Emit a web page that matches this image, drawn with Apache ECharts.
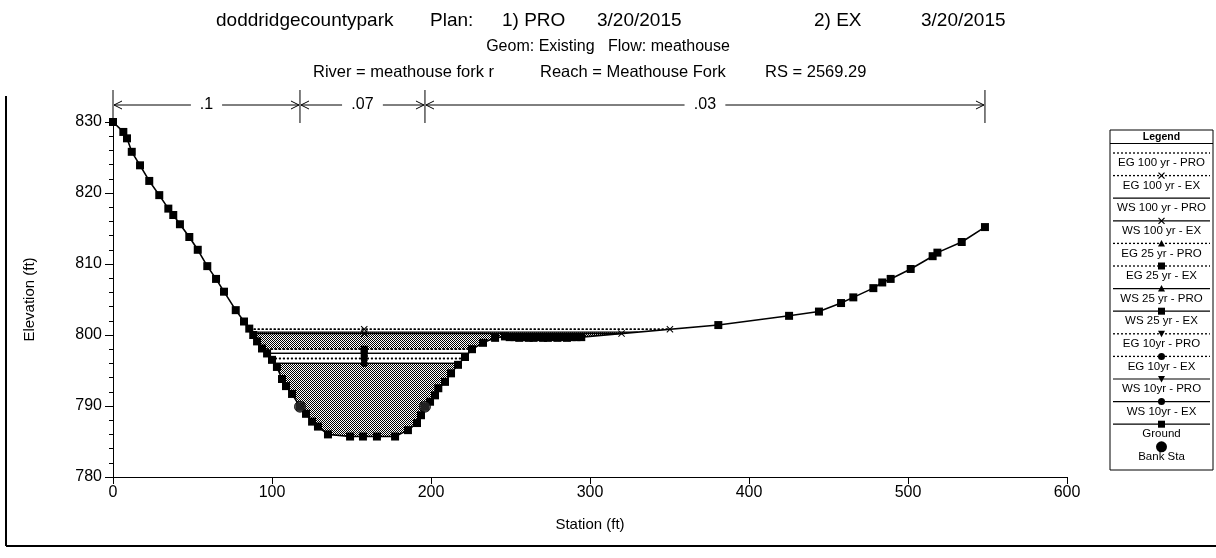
<!DOCTYPE html>
<html>
<head>
<meta charset="utf-8">
<script src="https://cdn.jsdelivr.net/npm/echarts@6/dist/echarts.min.js"></script>
<style>
  html, body { margin: 0; padding: 0; background: #fff; }
  #chart { width: 1216px; height: 558px; }
</style>
</head>
<body>
<div id="chart"></div>
<script>
// ---- Cross-section data -------------------------------------------------
// Ground survey points (station ft, elevation ft)
const groundStation = [
  0, 6.5, 8.8, 11.8, 17.0, 22.8, 29.1, 34.8, 37.9, 42.1, 48.0, 53.3, 59.3, 64.8, 69.8,
  77.2, 82.4, 85.7, 88.2, 90.6, 93.7, 96.9, 100.0, 103.1, 106.3, 108.8, 112.6, 117.6,
  121.4, 125.2, 128.9, 135.2, 149.1, 157.2, 166.0, 177.4, 185.5, 191.2, 193.7, 196.2,
  199.4, 202.5, 204.6, 208.8, 212.6, 217.0, 221.4, 225.8, 232.7, 240.3, 246.5,
  249.5, 252.5, 255.5, 258.5, 261.5, 264.5, 267.5, 270.5, 273.5, 276.5, 279.5, 282.5,
  285.5, 288.5, 291.5, 294.5,
  380.7, 425.2, 444.0, 457.9, 465.6, 478.2, 483.8, 489.1, 501.7, 515.5, 518.5, 533.8, 548.4
];
const groundElev = [
  830.0, 828.6, 827.7, 825.8, 823.9, 821.7, 819.7, 817.8, 816.9, 815.6, 813.8, 812.0, 809.7, 807.9, 806.1,
  803.5, 801.9, 800.9, 800.0, 799.1, 798.1, 797.4, 796.5, 795.5, 793.8, 792.8, 791.7, 789.9,
  788.9, 787.8, 787.1, 786.0, 785.7, 785.7, 785.7, 785.7, 786.6, 787.6, 788.7, 789.9,
  790.6, 791.5, 792.5, 793.4, 794.6, 795.8, 796.9, 798.0, 798.9, 799.6, 799.8,
  799.7, 799.7, 799.6, 799.7, 799.6, 799.6, 799.7, 799.6, 799.6, 799.7, 799.6, 799.7,
  799.6, 799.7, 799.7, 799.7,
  801.4, 802.7, 803.3, 804.5, 805.3, 806.6, 807.4, 807.9, 809.3, 811.1, 811.6, 813.1, 815.2
];

// Bank stations
const bankStation = [117.6, 196.2];
const bankElev = [789.9, 789.9];

// Manning's n regions
const nBreaks = [0, 117.6, 196.2, 548.4];
const nValues = ['.1', '.07', '.03'];

// Computed profiles
const profileNames = [
  'EG 100 yr - PRO', 'EG 100 yr - EX', 'WS 100 yr - PRO', 'WS 100 yr - EX',
  'EG 25 yr - PRO', 'EG 25 yr - EX', 'WS 25 yr - PRO', 'WS 25 yr - EX',
  'EG 10yr - PRO', 'EG 10yr - EX', 'WS 10yr - PRO', 'WS 10yr - EX'
];
const profileElev = [800.8, 800.8, 800.4, 800.2, 798.0, 798.0, 797.4, 797.4, 796.7, 796.7, 796.0, 796.0];
const symbolStation = 158;

// Axis ticks
const xTicks = [0, 100, 200, 300, 400, 500, 600];
const yTicks = [780, 790, 800, 810, 820, 830];

// Heading pieces
const titleLine1 = ['doddridgecountypark', 'Plan:', '1) PRO', '3/20/2015', '2) EX', '3/20/2015'];
const titleLine2 = 'Geom: Existing   Flow: meathouse';
const titleLine3 = ['River = meathouse fork r', 'Reach = Meathouse Fork', 'RS = 2569.29'];

// ---- Styling --------------------------------------------------------------
const FONT = '"Liberation Sans", Arial, sans-serif';
const SYM = {
  x: 'path://M0,1L1,0L5,4L9,0L10,1L6,5L10,9L9,10L5,6L1,10L0,9L4,5Z',
  triangle: 'triangle',
  rect: 'rect',
  down: 'path://M0,0L10,0L5,9Z',
  circle: 'circle',
  none: 'none'
};
const profileSymbol = ['none', 'x', 'none', 'x', 'triangle', 'rect', 'triangle', 'rect', 'down', 'circle', 'down', 'circle'];
const isEG = profileNames.map(n => n.startsWith('EG'));

// dithered water fill
const pat = document.createElement('canvas');
pat.width = 2; pat.height = 2;
const pc = pat.getContext('2d');
pc.fillStyle = '#ffffff'; pc.fillRect(0, 0, 2, 2);
pc.fillStyle = '#000000'; pc.fillRect(0, 0, 1, 1); pc.fillRect(1, 1, 1, 1);
const hatch = { image: pat, repeat: 'repeat' };

// where a water level meets the ground on each side of the thalweg
function crossings(level) {
  let lo = 0;
  for (let i = 1; i < groundElev.length; i++) if (groundElev[i] < groundElev[lo]) lo = i;
  let left = groundStation[0], right = groundStation[groundStation.length - 1];
  for (let i = lo; i > 0; i--) {
    if (groundElev[i - 1] >= level) {
      const t = (level - groundElev[i]) / (groundElev[i - 1] - groundElev[i]);
      left = groundStation[i] + t * (groundStation[i - 1] - groundStation[i]);
      break;
    }
  }
  for (let i = lo; i < groundElev.length - 1; i++) {
    if (groundElev[i + 1] >= level) {
      const t = (level - groundElev[i]) / (groundElev[i + 1] - groundElev[i]);
      right = groundStation[i] + t * (groundStation[i + 1] - groundStation[i]);
      break;
    }
  }
  return [left, right];
}

const ground = groundStation.map((s, i) => [s, groundElev[i]]);
const series = [];

// water fills
function fillSeries(level, color, z) {
  const [l, r] = crossings(level);
  return {
    type: 'line', data: [[l, level], [r, level]], symbol: 'none', silent: true,
    lineStyle: { width: 0, opacity: 0 },
    areaStyle: { color: color, opacity: 1, origin: 'start' }, z: z
  };
}
series.push(fillSeries(profileElev[2], hatch, 1));
series.push(fillSeries(profileElev[4], '#ffffff', 1));
series.push(fillSeries(profileElev[10], hatch, 1));

// mask below the terrain
series.push({
  type: 'line', data: ground, symbol: 'none', silent: true,
  lineStyle: { width: 0, opacity: 0 },
  areaStyle: { color: '#ffffff', opacity: 1, origin: 'start' }, z: 2
});

// profile lines
profileNames.forEach((name, i) => {
  const lvl = profileElev[i];
  const [l, r] = crossings(lvl);
  const sym = SYM[profileSymbol[i]];
  const pts = [
    { value: [l, lvl], symbol: 'none' },
    { value: [symbolStation, lvl], symbol: sym, symbolSize: 7 },
    profileSymbol[i] === 'x' ? { value: [r, lvl], symbol: sym, symbolSize: 7 } : { value: [r, lvl], symbol: 'none' }
  ];
  series.push({
    name: name, type: 'line', data: pts, z: 3,
    lineStyle: { color: '#000', width: isEG[i] ? 1.6 : 1.3, type: isEG[i] ? [2, 2] : 'solid' },
    itemStyle: { color: '#000' }
  });
});

// ground line
series.push({
  name: 'Ground', type: 'line', data: ground, z: 4,
  symbol: 'rect', symbolSize: 8,
  lineStyle: { color: '#000', width: 1.6 }, itemStyle: { color: '#000' }
});

// bank stations
series.push({
  name: 'Bank Sta', type: 'scatter', z: 5,
  data: bankStation.map((s, i) => [s, bankElev[i]]),
  symbol: 'circle', symbolSize: 11,
  itemStyle: { color: '#2a2a2a', borderColor: '#000', borderWidth: 1 }
});

const chart = echarts.init(document.getElementById('chart'), null, { renderer: 'canvas' });

chart.setOption({
  animation: false,
  backgroundColor: '#fff',
  textStyle: { fontFamily: FONT },
  grid: { left: 113, top: 122, width: 954, height: 355, containLabel: false },
  xAxis: {
    type: 'value', min: xTicks[0], max: xTicks[xTicks.length - 1], interval: 100, z: 10,
    name: 'Station (ft)', nameLocation: 'middle', nameGap: 40,
    nameTextStyle: { fontSize: 15, color: '#000', fontFamily: FONT },
    axisLine: { onZero: false, lineStyle: { color: '#000', width: 1 } },
    axisTick: { length: 7, lineStyle: { color: '#000' } },
    axisLabel: { fontSize: 16, color: '#000', margin: 8, fontFamily: FONT },
    splitLine: { show: false }
  },
  yAxis: {
    type: 'value', min: yTicks[0], max: yTicks[yTicks.length - 1], interval: 10, z: 10,
    name: 'Elevation (ft)', nameLocation: 'middle', nameGap: 76, nameRotate: 90,
    nameTextStyle: { fontSize: 15, color: '#000', fontFamily: FONT },
    axisLine: { onZero: false, lineStyle: { color: '#000', width: 1 } },
    axisTick: { length: 8, lineStyle: { color: '#000' } },
    minorTick: { show: true, splitNumber: 5, length: 4, lineStyle: { color: '#000' } },
    axisLabel: { fontSize: 16, color: '#000', margin: 11, fontFamily: FONT },
    splitLine: { show: false }
  },
  series: series
});

// ---- Annotations (headings, n-value bar, legend, frame) ---------------
const g = [];
function text(str, x, y, size, align, weight) {
  g.push({
    type: 'text', x: x, y: y, silent: true,
    style: { text: str, fontSize: size, fontWeight: weight || 'normal', fontFamily: FONT, fill: '#000',
             align: align || 'left', verticalAlign: 'middle' }
  });
}
function line(x1, y1, x2, y2, w, dash) {
  g.push({ type: 'line', silent: true, shape: { x1, y1, x2, y2 },
    style: { stroke: '#000', lineWidth: w || 1, lineDash: dash || null } });
}

// headings
[216, 430, 502, 597, 814, 921].forEach((x, i) => text(titleLine1[i], x, 21, 19));
text(titleLine2, 608, 47, 16, 'center');
[313, 540, 765].forEach((x, i) => text(titleLine3[i], x, 72, 16.5));

// Manning's n bar
const barY = 105;
const bx = nBreaks.map(s => chart.convertToPixel({ xAxisIndex: 0 }, s));
bx.forEach(x => line(x, 90, x, 123, 1));
function arrowHead(x, dir) {
  g.push({ type: 'polyline', silent: true,
    shape: { points: [[x + dir * 9, barY - 4], [x + dir * 1, barY], [x + dir * 9, barY + 4]] },
    style: { stroke: '#000', lineWidth: 1, fill: null } });
}
for (let i = 0; i < nValues.length; i++) {
  const a = bx[i], b = bx[i + 1], c = (a + b) / 2;
  const half = nValues[i].length * 4.8 + 6;
  line(a + 1, barY, c - half, barY, 1);
  line(c + half, barY, b - 1, barY, 1);
  arrowHead(a, 1);
  arrowHead(b, -1);
  text(nValues[i], c, barY, 16, 'center');
}

// legend box
const LX0 = 1110, LX1 = 1213, LT = 130, LB = 470, LC = (LX0 + LX1) / 2;
g.push({ type: 'rect', silent: true, shape: { x: LX0, y: LT, width: LX1 - LX0, height: LB - LT },
  style: { fill: '#fff', stroke: '#000', lineWidth: 1 } });
text('Legend', LC, 137, 10.5, 'center', 'bold');
line(LX0, 143.5, LX1, 143.5, 1);

function legendMarker(kind, cx, cy) {
  const r = 3.5;
  if (kind === 'rect') g.push({ type: 'rect', silent: true, shape: { x: cx - r, y: cy - r, width: 2 * r, height: 2 * r }, style: { fill: '#000' } });
  else if (kind === 'circle') g.push({ type: 'circle', silent: true, shape: { cx, cy, r: r }, style: { fill: '#000' } });
  else if (kind === 'triangle') g.push({ type: 'polygon', silent: true, shape: { points: [[cx, cy - r], [cx + r, cy + r - 0.5], [cx - r, cy + r - 0.5]] }, style: { fill: '#000' } });
  else if (kind === 'down') g.push({ type: 'polygon', silent: true, shape: { points: [[cx - r, cy - r + 0.5], [cx + r, cy - r + 0.5], [cx, cy + r]] }, style: { fill: '#000' } });
  else if (kind === 'x') { line(cx - 3, cy - 3, cx + 3, cy + 3, 1.2); line(cx - 3, cy + 3, cx + 3, cy - 3, 1.2); }
}
const LSTEP = 22.6;
profileNames.forEach((name, i) => {
  const y = 153 + i * LSTEP;
  line(LX0 + 3, y, LX1 - 3, y, isEG[i] ? 1.3 : 1.2, isEG[i] ? [2, 2] : null);
  legendMarker(profileSymbol[i], LC, y);
  text(name, LC, y + 10, 11.5, 'center');
});
{
  const y = 153 + 12 * LSTEP;
  line(LX0 + 3, y, LX1 - 3, y, 1.2);
  legendMarker('rect', LC, y);
  text('Ground', LC, y + 10, 11.5, 'center');
  const y2 = 153 + 13 * LSTEP;
  g.push({ type: 'circle', silent: true, shape: { cx: LC, cy: y2, r: 5.5 }, style: { fill: '#000' } });
  text('Bank Sta', LC, y2 + 10, 11.5, 'center');
}

// outer frame
line(6, 96, 6, 546, 2);
line(6, 546, 1216, 546, 2);

chart.setOption({ graphic: g });
</script>
</body>
</html>
